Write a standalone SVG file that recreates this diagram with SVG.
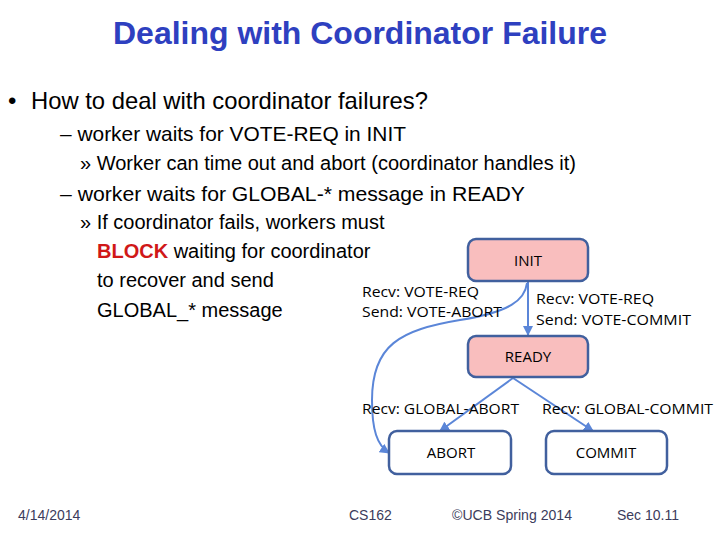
<svg xmlns="http://www.w3.org/2000/svg" width="720" height="540" viewBox="0 0 720 540">
<style>
.t{font-family:"Liberation Sans",Arial,sans-serif;fill:#000}
.title{font-family:"Liberation Sans",Arial,sans-serif;font-weight:bold;font-size:32px;fill:#2E40C0}
.foot{font-family:"Liberation Sans",Arial,sans-serif;font-size:14px;fill:#3C3C5C}
.lbl{font-family:"Open Sans","Noto Sans",sans-serif;font-size:14px;fill:#000}
.nt{font-family:"Open Sans","Noto Sans",sans-serif;font-size:15px;fill:#000;text-anchor:middle}
.box{stroke:#41609E;stroke-width:2.5}
.pink{fill:#F9BEBE}
.white{fill:#FFFFFF}
.edge{fill:none;stroke:#5B86D8;stroke-width:2}
</style>
<defs>
<marker id="ah" viewBox="0 0 10 10" refX="9" refY="5" markerWidth="5" markerHeight="5" orient="auto" markerUnits="strokeWidth">
<path d="M0,0 L10,5 L0,10 z" fill="#5B86D8"/>
</marker>
</defs>
<rect width="720" height="540" fill="#FFFFFF"/>
<text class="title" x="360" y="44" text-anchor="middle" textLength="494" lengthAdjust="spacingAndGlyphs">Dealing with Coordinator Failure</text>
<text class="t" x="8" y="109" font-size="24">•</text>
<text class="t" x="31" y="109" font-size="24" textLength="397" lengthAdjust="spacingAndGlyphs">How to deal with coordinator failures?</text>
<text class="t" x="60" y="141" font-size="21" textLength="346" lengthAdjust="spacingAndGlyphs">– worker waits for VOTE-REQ in INIT</text>
<text class="t" x="80" y="170" font-size="20" textLength="496" lengthAdjust="spacingAndGlyphs">» Worker can time out and abort (coordinator handles it)</text>
<text class="t" x="60" y="201" font-size="21" textLength="465" lengthAdjust="spacingAndGlyphs">– worker waits for GLOBAL-* message in READY</text>
<text class="t" x="80" y="229" font-size="20">» If coordinator fails, workers must</text>
<text class="t" x="97" y="258" font-size="20"><tspan font-weight="bold" fill="#D01818">BLOCK</tspan> waiting for coordinator</text>
<text class="t" x="97" y="287" font-size="20">to recover and send</text>
<text class="t" x="97" y="317" font-size="20">GLOBAL_* message</text>
<g id="connectors">
<path class="edge" d="M528,282 L528,335" marker-end="url(#ah)"/>
<path class="edge" d="M527,283 C525,300 510,312 460,320 C400,330 372,345 372,400 C372,430 377,445 389,453" marker-end="url(#ah)"/>
<path class="edge" d="M513,378 L440,431" marker-end="url(#ah)"/>
<path class="edge" d="M513,378 L593,431" marker-end="url(#ah)"/>
</g>
<g id="labels">
<text class="lbl" x="362" y="297" textLength="117" lengthAdjust="spacingAndGlyphs">Recv: VOTE-REQ</text>
<text class="lbl" x="362" y="317" textLength="140" lengthAdjust="spacingAndGlyphs">Send: VOTE-ABORT</text>
<text class="lbl" x="536" y="304" textLength="118" lengthAdjust="spacingAndGlyphs">Recv: VOTE-REQ</text>
<text class="lbl" x="536" y="325" textLength="155" lengthAdjust="spacingAndGlyphs">Send: VOTE-COMMIT</text>
<text class="lbl" x="362" y="414" textLength="157" lengthAdjust="spacingAndGlyphs">Recv: GLOBAL-ABORT</text>
<text class="lbl" x="542" y="414" textLength="171" lengthAdjust="spacingAndGlyphs">Recv: GLOBAL-COMMIT</text>
</g>
<g id="node-init">
<rect class="box pink" x="468" y="239" width="120" height="42" rx="8"/>
<text class="nt" x="528" y="266">INIT</text>
</g>
<g id="node-ready">
<rect class="box pink" x="468" y="336" width="120" height="41" rx="8"/>
<text class="nt" x="528" y="362">READY</text>
</g>
<g id="node-abort">
<rect class="box white" x="389" y="431" width="122" height="43" rx="8"/>
<text class="nt" x="451" y="458">ABORT</text>
</g>
<g id="node-commit">
<rect class="box white" x="546" y="431" width="121" height="43" rx="8"/>
<text class="nt" x="606" y="458">COMMIT</text>
</g>
<text class="foot" x="18" y="520">4/14/2014</text>
<text class="foot" x="349" y="520">CS162</text>
<text class="foot" x="452" y="520" textLength="120" lengthAdjust="spacingAndGlyphs">©UCB Spring 2014</text>
<text class="foot" x="617" y="520" textLength="62" lengthAdjust="spacingAndGlyphs">Sec 10.11</text>
</svg>
